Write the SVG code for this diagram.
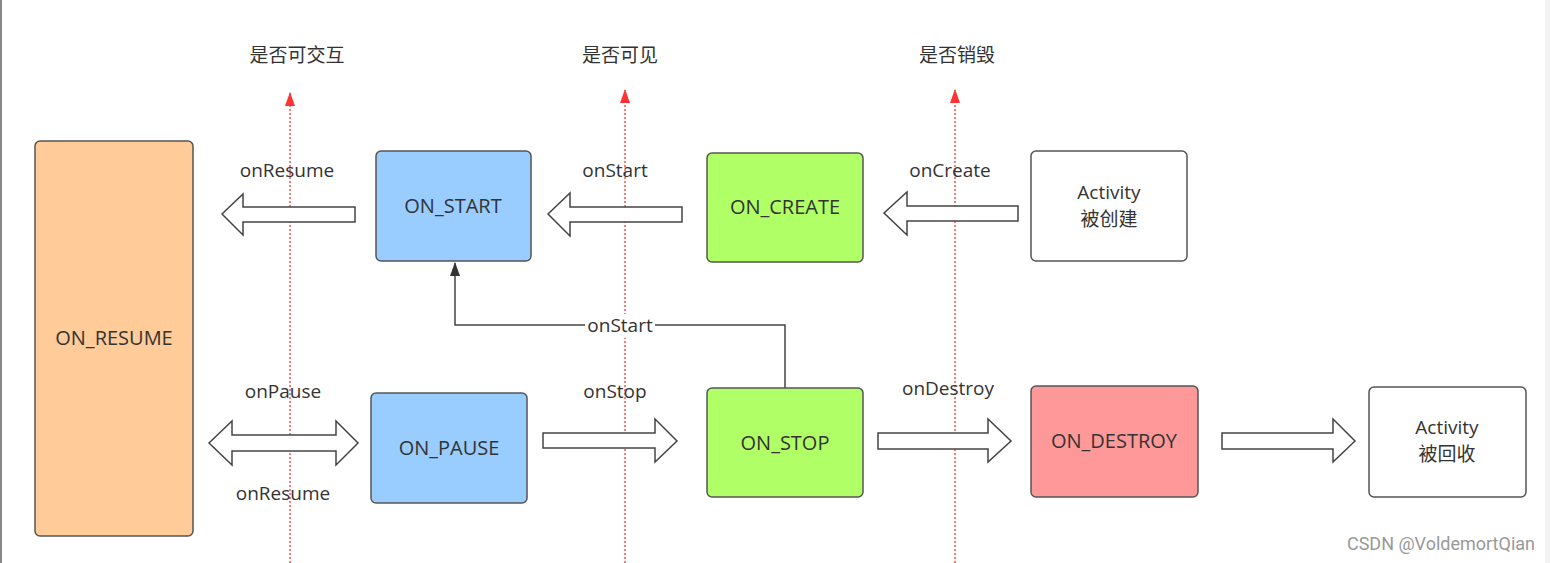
<svg xmlns="http://www.w3.org/2000/svg" width="1550" height="563" viewBox="0 0 1550 563">
<style>
  .box{stroke:#555;stroke-width:1.5}
  .t{font-family:"Open Sans","Noto Sans CJK SC",sans-serif;font-size:20px;fill:#333;text-anchor:middle}
  .lbl{font-family:"Open Sans","Noto Sans CJK SC",sans-serif;font-size:19px;fill:#333;text-anchor:middle}
  .cn{font-family:"Noto Sans CJK SC",sans-serif;font-size:19px;fill:#333;text-anchor:middle}
  .blk{fill:#fff;stroke:#444;stroke-width:1.5;stroke-linejoin:miter}
  .guide{stroke:#ff4d4d;stroke-width:1.5;stroke-dasharray:2 2;fill:none}
</style>
<defs>
  <marker id="red" markerWidth="14" markerHeight="10" refX="13" refY="5" orient="auto" markerUnits="userSpaceOnUse" viewBox="0 0 14 10">
    <path d="M0,0 L14,5 L0,10 Z" fill="#ff3333"/>
  </marker>
  <marker id="blk" markerWidth="14" markerHeight="10" refX="13" refY="5" orient="auto" markerUnits="userSpaceOnUse" viewBox="0 0 14 10">
    <path d="M0,0 L14,5 L0,10 Z" fill="#333"/>
  </marker>
</defs>
<rect x="0" y="0" width="1550" height="563" fill="#fff"/>
<rect x="0" y="0" width="2" height="563" fill="#888"/>
<rect x="1545" y="0" width="5" height="563" fill="#f4f4f4"/>

<g id="guides">
  <line class="guide" x1="290" y1="563" x2="290" y2="93" marker-end="url(#red)"/>
  <line class="guide" x1="625" y1="563" x2="625" y2="90" marker-end="url(#red)"/>
  <line class="guide" x1="955" y1="563" x2="955" y2="90" marker-end="url(#red)"/>
  <text class="cn" x="297" y="62">是否可交互</text>
  <text class="cn" x="620" y="62">是否可见</text>
  <text class="cn" x="957" y="62">是否销毁</text>
</g>

<g id="connectors">
  <polygon class="blk" points="355,207 243,207 243,194 222,214 243,235 243,222 355,222"/>
  <text class="lbl" x="287" y="177">onResume</text>
  <polygon class="blk" points="682,207 570,207 570,193 548,214 570,236 570,222 682,222"/>
  <text class="lbl" x="615" y="177">onStart</text>
  <polygon class="blk" points="1018,206 907,206 907,192 884,213 907,235 907,221 1018,221"/>
  <text class="lbl" x="950" y="177">onCreate</text>
  <polygon class="blk" points="209,443 232,421 232,435 336,435 336,421 358,443 336,465 336,451 232,451 232,465"/>
  <text class="lbl" x="283" y="398">onPause</text>
  <text class="lbl" x="283" y="500">onResume</text>
  <polygon class="blk" points="543,433 655,433 655,419 677,441 655,462 655,448 543,448"/>
  <text class="lbl" x="615" y="398">onStop</text>
  <polygon class="blk" points="878,433 988,433 988,419 1011,441 988,462 988,449 878,449"/>
  <text class="lbl" x="948" y="395">onDestroy</text>
  <polygon class="blk" points="1222,433 1333,433 1333,419 1355,441 1333,462 1333,449 1222,449"/>
  <path d="M785,388 V325 H455 V263" fill="none" stroke="#444" stroke-width="1.5" marker-end="url(#blk)"/>
  <rect x="585" y="314" width="70" height="24" fill="#fff"/>
  <text class="lbl" x="620" y="332">onStart</text>
</g>

<g id="on_resume">
  <rect class="box" x="35" y="141" width="158" height="395" rx="5" fill="#ffcc99"/>
  <text class="t" x="114" y="345">ON_RESUME</text>
</g>
<g id="on_start">
  <rect class="box" x="376" y="151" width="155" height="110" rx="5" fill="#99ccff"/>
  <text class="t" x="453" y="213">ON_START</text>
</g>
<g id="on_create">
  <rect class="box" x="707" y="153" width="156" height="109" rx="5" fill="#b0ff66"/>
  <text class="t" x="785" y="214">ON_CREATE</text>
</g>
<g id="activity_created">
  <rect class="box" x="1031" y="151" width="156" height="110" rx="5" fill="#fff"/>
  <text class="lbl" x="1109" y="199" font-size="18">Activity</text>
  <text class="cn" x="1109" y="226" font-size="18">被创建</text>
</g>
<g id="on_pause">
  <rect class="box" x="371" y="393" width="156" height="110" rx="5" fill="#99ccff"/>
  <text class="t" x="449" y="455">ON_PAUSE</text>
</g>
<g id="on_stop">
  <rect class="box" x="707" y="388" width="156" height="109" rx="5" fill="#b0ff66"/>
  <text class="t" x="785" y="450">ON_STOP</text>
</g>
<g id="on_destroy">
  <rect class="box" x="1031" y="386" width="167" height="111" rx="5" fill="#ff9999"/>
  <text class="t" x="1114" y="448">ON_DESTROY</text>
</g>
<g id="activity_recycled">
  <rect class="box" x="1369" y="387" width="157" height="110" rx="5" fill="#fff"/>
  <text class="lbl" x="1447" y="434" font-size="18">Activity</text>
  <text class="cn" x="1447" y="461" font-size="18">被回收</text>
</g>
<text x="1535" y="550" font-family="Roboto,'Liberation Sans',sans-serif" font-size="18" fill="#999" text-anchor="end">CSDN @VoldemortQian</text>
</svg>
